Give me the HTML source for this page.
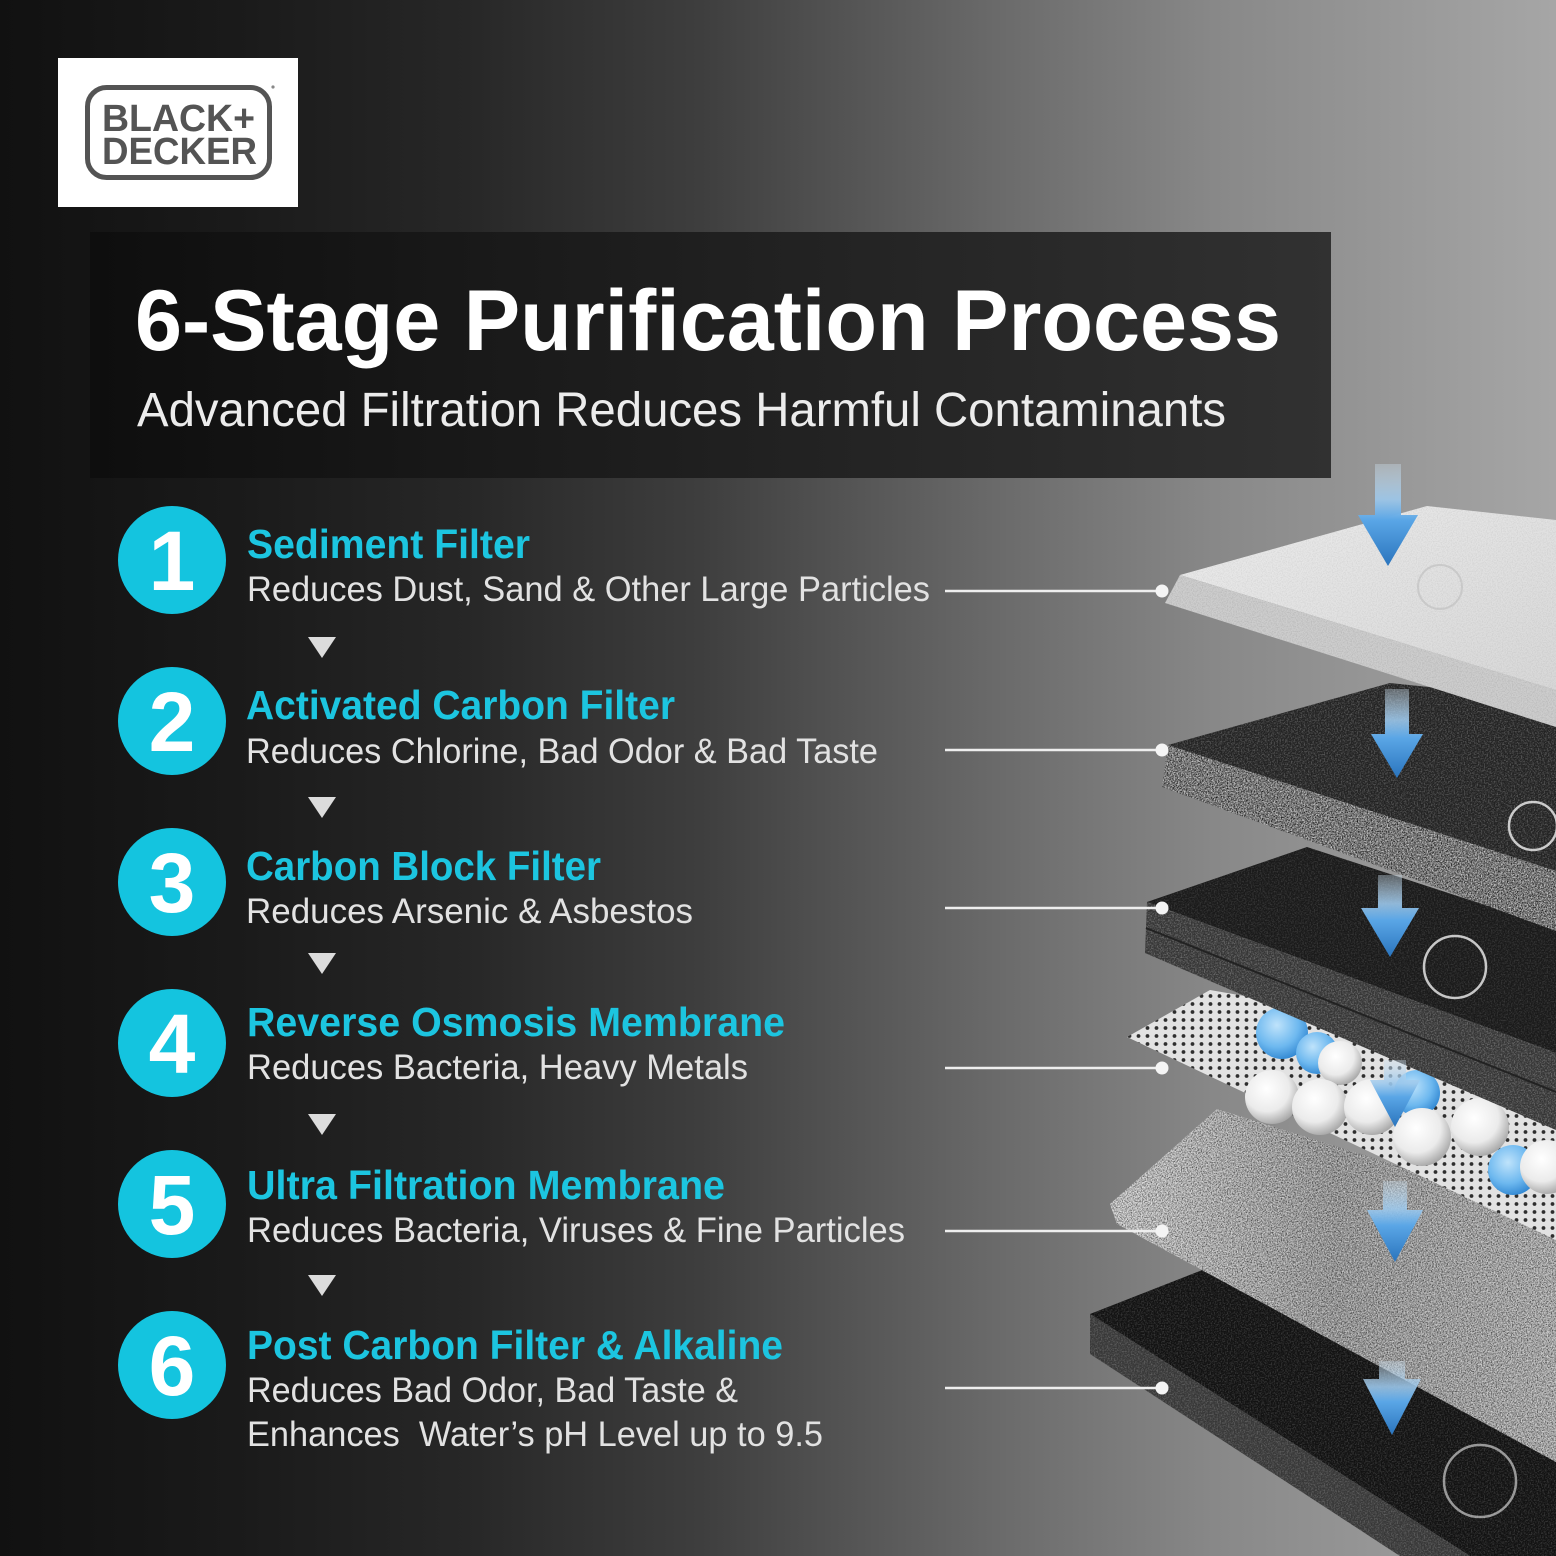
<!DOCTYPE html>
<html><head><meta charset="utf-8"><style>
html,body{margin:0;padding:0;background:#111;}
svg{display:block;}
text{font-family:"Liberation Sans",Arial,sans-serif;}
</style></head><body>
<svg width="1556" height="1556" viewBox="0 0 1556 1556" xmlns="http://www.w3.org/2000/svg">
<defs>
 <linearGradient id="bg" x1="0" y1="0" x2="1" y2="0">
  <stop offset="0" stop-color="#111"/>
  <stop offset="0.15" stop-color="#1a1a1a"/>
  <stop offset="0.30" stop-color="#272727"/>
  <stop offset="0.45" stop-color="#3e3e3e"/>
  <stop offset="0.64" stop-color="#6a6a6a"/>
  <stop offset="0.78" stop-color="#888"/>
  <stop offset="1" stop-color="#a6a6a6"/>
 </linearGradient>
 <linearGradient id="tb" x1="0" y1="0" x2="1" y2="0">
  <stop offset="0" stop-color="#0e0e0e"/>
  <stop offset="1" stop-color="#313131"/>
 </linearGradient>
 <linearGradient id="arr" x1="0" y1="0" x2="0" y2="1">
  <stop offset="0" stop-color="#cfe2f0" stop-opacity="0.35"/>
  <stop offset="0.35" stop-color="#9cc8ec" stop-opacity="0.9"/>
  <stop offset="0.55" stop-color="#5aa6e6"/>
  <stop offset="1" stop-color="#2a74bd"/>
 </linearGradient>
 <radialGradient id="wball" cx="0.4" cy="0.35" r="0.7">
  <stop offset="0" stop-color="#ffffff"/>
  <stop offset="0.6" stop-color="#ebebeb"/>
  <stop offset="1" stop-color="#a0a0a0"/>
 </radialGradient>
 <radialGradient id="bball" cx="0.4" cy="0.35" r="0.7">
  <stop offset="0" stop-color="#bfe3fb"/>
  <stop offset="0.6" stop-color="#6db8ef"/>
  <stop offset="1" stop-color="#2d84d0"/>
 </radialGradient>
 <linearGradient id="l1top" x1="0" y1="0" x2="1" y2="1">
  <stop offset="0" stop-color="#ececec"/>
  <stop offset="1" stop-color="#d8d8d8"/>
 </linearGradient>
 <linearGradient id="l5" x1="0" y1="0" x2="1" y2="0">
  <stop offset="0" stop-color="#cfcfcf"/>
  <stop offset="0.5" stop-color="#9a9a9a"/>
  <stop offset="1" stop-color="#b0b0b0"/>
 </linearGradient>
 <pattern id="mesh" width="9" height="8" patternUnits="userSpaceOnUse">
  <rect width="9" height="8" fill="#e2e2e2"/>
  <circle cx="4.5" cy="4" r="1.9" fill="#2e2e2e"/>
 </pattern>
 <filter id="spkW" x="0" y="0" width="100%" height="100%">
  <feTurbulence type="fractalNoise" baseFrequency="0.7" numOctaves="2" seed="4"/>
  <feColorMatrix type="matrix" values="0 0 0 0 1  0 0 0 0 1  0 0 0 0 1  3.2 0 0 0 -1.35"/>
  <feComposite in2="SourceAlpha" operator="in"/>
 </filter>
 <filter id="spkB" x="0" y="0" width="100%" height="100%">
  <feTurbulence type="fractalNoise" baseFrequency="0.8" numOctaves="2" seed="9"/>
  <feColorMatrix type="matrix" values="0 0 0 0 0  0 0 0 0 0  0 0 0 0 0  3.2 0 0 0 -1.3"/>
  <feComposite in2="SourceAlpha" operator="in"/>
 </filter>
</defs>

<rect width="1556" height="1556" fill="url(#bg)"/>

<!-- Logo -->
<rect x="58" y="58" width="240" height="149" fill="#ffffff"/>
<rect x="87.5" y="87.5" width="182" height="90" rx="19" fill="none" stroke="#545454" stroke-width="5"/>
<text x="102" y="131" font-size="38" font-weight="bold" fill="#545454" textLength="153" lengthAdjust="spacingAndGlyphs">BLACK+</text>
<text x="102" y="164" font-size="38" font-weight="bold" fill="#545454" textLength="155" lengthAdjust="spacingAndGlyphs">DECKER</text>
<circle cx="273" cy="87" r="1.6" fill="#888"/>

<!-- Title box -->
<rect x="90" y="232" width="1241" height="246" fill="url(#tb)"/>
<text x="135" y="350" font-size="86" font-weight="bold" fill="#ffffff" textLength="1146" lengthAdjust="spacingAndGlyphs">6-Stage Purification Process</text>
<text x="137" y="426" font-size="48" fill="#ececec" textLength="1089" lengthAdjust="spacingAndGlyphs">Advanced Filtration Reduces Harmful Contaminants</text>

<!-- Filter layers (bottom to top) -->
<!-- Layer 6 -->
<polygon points="1090,1314 1210,1267 1556,1390 1556,1556 1470,1556" fill="#121212"/>
<polygon points="1090,1314 1210,1267 1556,1390 1556,1556 1470,1556" fill="#fff" filter="url(#spkW)" opacity="0.15"/>
<polygon points="1090,1314 1470,1556 1400,1556 1090,1354" fill="#383838"/>
<polygon points="1090,1314 1470,1556 1400,1556 1090,1354" fill="#fff" filter="url(#spkW)" opacity="0.18"/>
<!-- Layer 5 -->
<polygon points="1110,1204 1217,1109 1556,1215 1556,1462 1117,1224" fill="url(#l5)"/>
<polygon points="1110,1204 1217,1109 1556,1215 1556,1462 1117,1224" fill="#000" filter="url(#spkB)" opacity="0.55"/>
<polygon points="1110,1204 1217,1109 1556,1215 1556,1462 1117,1224" fill="#fff" filter="url(#spkW)" opacity="0.5"/>
<!-- Layer 4 mesh -->
<polygon points="1127,1037 1210,990 1556,1050 1556,1240" fill="url(#mesh)"/>
<!-- balls -->
<circle cx="1282" cy="1033" r="26" fill="url(#bball)"/>
<circle cx="1317" cy="1053" r="21" fill="url(#bball)"/>
<circle cx="1340" cy="1063" r="22" fill="url(#wball)"/>
<circle cx="1272" cy="1097" r="27" fill="url(#wball)"/>
<circle cx="1417" cy="1093" r="23" fill="url(#bball)"/>
<circle cx="1320" cy="1107" r="28" fill="url(#wball)"/>
<circle cx="1372" cy="1107" r="28" fill="url(#wball)"/>
<circle cx="1513" cy="1170" r="25" fill="url(#bball)"/>
<circle cx="1422" cy="1137" r="29" fill="url(#wball)"/>
<circle cx="1480" cy="1127" r="29" fill="url(#wball)"/>
<circle cx="1547" cy="1167" r="27" fill="url(#wball)"/>
<!-- Layer 3 -->
<polygon points="1147,902 1307,847 1556,928 1556,1053" fill="#1a1a1a"/>
<polygon points="1147,902 1307,847 1556,928 1556,1053" fill="#fff" filter="url(#spkW)" opacity="0.12"/>
<polygon points="1147,902 1556,1053 1556,1130 1145,953" fill="#363636"/>
<polygon points="1147,902 1556,1053 1556,1130 1145,953" fill="#fff" filter="url(#spkW)" opacity="0.25"/>
<line x1="1146" y1="928" x2="1556" y2="1092" stroke="#222" stroke-width="2"/>
<!-- Layer 2 -->
<polygon points="1168,745 1390,683 1556,700 1556,871" fill="#232323"/>
<polygon points="1168,745 1390,683 1556,700 1556,871" fill="#fff" filter="url(#spkW)" opacity="0.22"/>
<polygon points="1168,745 1556,871 1556,931 1162,787" fill="#7a7a7a"/>
<polygon points="1168,745 1556,871 1556,931 1162,787" fill="#000" filter="url(#spkB)" opacity="0.8"/>
<polygon points="1168,745 1556,871 1556,931 1162,787" fill="#fff" filter="url(#spkW)" opacity="0.6"/>
<!-- Layer 1 -->
<polygon points="1180,575 1427,506 1556,520 1556,690" fill="url(#l1top)"/>
<polygon points="1180,575 1427,506 1556,520 1556,690" fill="#000" filter="url(#spkB)" opacity="0.05"/>
<polygon points="1165,603 1180,575 1556,690 1556,727" fill="#cdcdcd"/>
<polygon points="1165,603 1180,575 1556,690 1556,727" fill="#000" filter="url(#spkB)" opacity="0.08"/>

<!-- Bubbles -->
<g fill="none" stroke="#ffffff" stroke-opacity="0.75" stroke-width="2.5">
 <circle cx="1533" cy="826" r="24"/>
 <circle cx="1455" cy="967" r="31"/>
 <circle cx="1480" cy="1481" r="36" stroke-opacity="0.55"/>
</g>
<circle cx="1440" cy="587" r="22" fill="none" stroke="#bdbdbd" stroke-width="2" opacity="0.6"/>

<!-- Arrows -->
<polygon points="1375,464 1401,464 1401,515 1418,515 1388,566 1358,515 1375,515" fill="url(#arr)"/>
<polygon points="1385,689 1409,689 1409,734 1423,734 1397,778 1371,734 1385,734" fill="url(#arr)"/>
<polygon points="1378,875 1402,875 1402,908 1419,908 1390,957 1361,908 1378,908" fill="url(#arr)"/>
<polygon points="1384,1060 1406,1060 1406,1080 1420,1080 1395,1127 1370,1080 1384,1080" fill="url(#arr)"/>
<polygon points="1383,1181 1407,1181 1407,1210 1423,1210 1395,1262 1367,1210 1383,1210" fill="url(#arr)"/>
<polygon points="1379,1361 1405,1361 1405,1379 1421,1379 1392,1435 1363,1379 1379,1379" fill="url(#arr)"/>

<!-- Connectors -->
<g stroke="#eeeeee" stroke-width="2.5">
 <line x1="945" y1="591" x2="1162" y2="591"/>
 <line x1="945" y1="750" x2="1162" y2="750"/>
 <line x1="945" y1="908" x2="1162" y2="908"/>
 <line x1="945" y1="1068" x2="1162" y2="1068"/>
 <line x1="945" y1="1231" x2="1162" y2="1231"/>
 <line x1="945" y1="1388" x2="1162" y2="1388"/>
</g>
<g fill="#f4f4f4">
 <circle cx="1162" cy="591" r="6.5"/>
 <circle cx="1162" cy="750" r="6.5"/>
 <circle cx="1162" cy="908" r="6.5"/>
 <circle cx="1162" cy="1068" r="6.5"/>
 <circle cx="1162" cy="1231" r="6.5"/>
 <circle cx="1162" cy="1388" r="6.5"/>
</g>

<!-- Step circles -->
<g fill="#14c4df">
 <circle cx="172" cy="560" r="54"/>
 <circle cx="172" cy="721" r="54"/>
 <circle cx="172" cy="882" r="54"/>
 <circle cx="172" cy="1043" r="54"/>
 <circle cx="172" cy="1204" r="54"/>
 <circle cx="172" cy="1365" r="54"/>
</g>
<g fill="#ffffff" font-size="84" font-weight="bold" text-anchor="middle">
 <text x="172" y="590">1</text>
 <text x="172" y="751">2</text>
 <text x="172" y="912">3</text>
 <text x="172" y="1073">4</text>
 <text x="172" y="1234">5</text>
 <text x="172" y="1395">6</text>
</g>

<!-- Step titles -->
<g fill="#1cc5e0" font-size="41" font-weight="bold">
 <text x="247" y="558" textLength="283" lengthAdjust="spacingAndGlyphs">Sediment Filter</text>
 <text x="246" y="719" textLength="429" lengthAdjust="spacingAndGlyphs">Activated Carbon Filter</text>
 <text x="246" y="880" textLength="355" lengthAdjust="spacingAndGlyphs">Carbon Block Filter</text>
 <text x="247" y="1036" textLength="538" lengthAdjust="spacingAndGlyphs">Reverse Osmosis Membrane</text>
 <text x="247" y="1199" textLength="478" lengthAdjust="spacingAndGlyphs">Ultra Filtration Membrane</text>
 <text x="247" y="1359" textLength="536" lengthAdjust="spacingAndGlyphs">Post Carbon Filter &amp; Alkaline</text>
</g>
<!-- Step descriptions -->
<g fill="#e2e2e2" font-size="35">
 <text x="247" y="601" textLength="683" lengthAdjust="spacingAndGlyphs">Reduces Dust, Sand &amp; Other Large Particles</text>
 <text x="246" y="763" textLength="632" lengthAdjust="spacingAndGlyphs">Reduces Chlorine, Bad Odor &amp; Bad Taste</text>
 <text x="246" y="923" textLength="447" lengthAdjust="spacingAndGlyphs">Reduces Arsenic &amp; Asbestos</text>
 <text x="247" y="1079" textLength="501" lengthAdjust="spacingAndGlyphs">Reduces Bacteria, Heavy Metals</text>
 <text x="247" y="1242" textLength="658" lengthAdjust="spacingAndGlyphs">Reduces Bacteria, Viruses &amp; Fine Particles</text>
 <text x="247" y="1402" textLength="491" lengthAdjust="spacingAndGlyphs">Reduces Bad Odor, Bad Taste &amp;</text>
 <text x="247" y="1446" textLength="576" lengthAdjust="spacingAndGlyphs" xml:space="preserve">Enhances  Water’s pH Level up to 9.5</text>
</g>

<!-- Flow triangles -->
<g fill="#dcdcdc">
 <polygon points="308,637 336,637 322,658"/>
 <polygon points="308,797 336,797 322,818"/>
 <polygon points="308,953 336,953 322,974"/>
 <polygon points="308,1114 336,1114 322,1135"/>
 <polygon points="308,1275 336,1275 322,1296"/>
</g>
</svg>
</body></html>
